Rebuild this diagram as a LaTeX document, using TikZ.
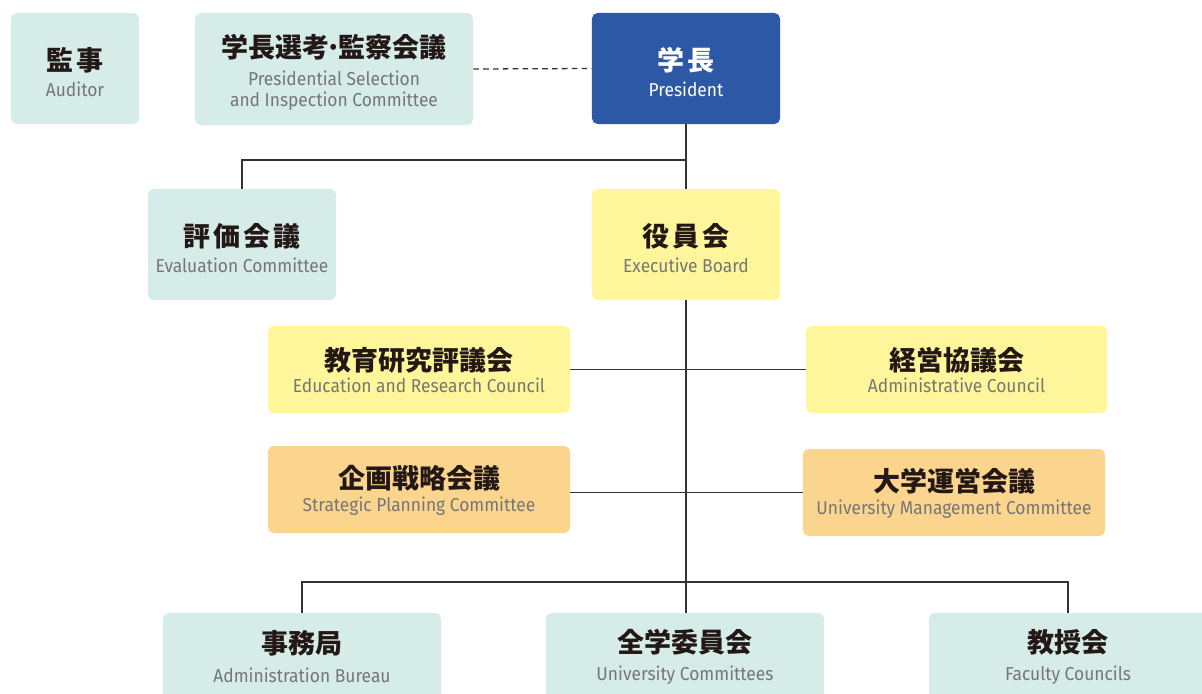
\documentclass[tikz,border=0pt]{standalone}
\usepackage{fontspec}
\newfontfamily\jpfont{Noto Sans CJK JP}
\newfontfamily\jpwidefont[LetterSpace=12]{Noto Sans CJK JP}
\newfontfamily\enfont[FakeStretch=0.93]{Fira Sans}
\usetikzlibrary{positioning}
\usetikzlibrary{calc}

\definecolor{tealfill}{HTML}{D5ECE9}
\definecolor{yellowfill}{HTML}{FFF69B}
\definecolor{orangefill}{HTML}{FBD48D}
\definecolor{bluefill}{HTML}{2D58A5}
\definecolor{jpink}{HTML}{231815}
\definecolor{engray}{HTML}{767676}
\definecolor{linegray}{HTML}{333333}

\newcommand{\jtext}[2][21.5pt]{{\jpfont\bfseries\fontsize{19.2pt}{15pt}\selectfont\rule{0pt}{#1}#2}}
\newcommand{\jwide}[1]{{\jpwidefont\bfseries\fontsize{19.2pt}{15pt}\selectfont\rule{0pt}{21.5pt}#1}}
\newcommand{\etext}[1]{{\enfont\fontsize{13.3pt}{15pt}\selectfont #1}}

\begin{document}
\begin{tikzpicture}[x=0.025cm,y=-0.025cm,
    orgbox/.style={rounded corners=4pt, inner sep=0pt, align=center,
        text=jpink, minimum height=2.775cm, font=\fontsize{13.3pt}{15pt}\selectfont},
    tealbox/.style={orgbox, fill=tealfill},
    yellowbox/.style={orgbox, fill=yellowfill},
    orangebox/.style={orgbox, fill=orangefill, minimum height=2.175cm},
    link/.style={draw=linegray, line width=0.9pt}]

    % page frame
    \useasboundingbox (0,0) rectangle (1202,693);
    \clip (0,0) rectangle (1202,693);

    % top row
    \node[tealbox, minimum width=3.2cm] (aud) at (75,68.5)
        {\jwide{監事}\\[3pt]\color{engray}\etext{Auditor}};
    \node[tealbox, minimum width=6.95cm, minimum height=2.8cm] (psic) at (334,69)
        {\jtext{学長選考\kern-3pt·\kern-3pt監察会議}\\[5pt]\color{engray}\etext{Presidential Selection}\\\color{engray}\etext{and Inspection Committee}};
    \node[orgbox, fill=bluefill, text=white, minimum width=4.7cm] (pres) at (686,68.5)
        {\jwide{学長}\\[3pt]\etext{President}};

    % second row
    \node[tealbox, minimum width=4.7cm] (eval) at (242,244.5)
        {\jwide{評価会議}\\[3pt]\color{engray}\etext{Evaluation Committee}};
    \node[yellowbox, minimum width=4.7cm] (exec) at (686,244.5)
        {\jwide{役員会}\\[3pt]\color{engray}\etext{Executive Board}};

    % councils
    \node[yellowbox, minimum width=7.55cm, minimum height=2.175cm] (edu) at (419,369.5)
        {\jtext[17.5pt]{教育研究評議会}\\[1pt]\color{engray}\etext{Education and Research Council}};
    \node[yellowbox, minimum width=7.525cm, minimum height=2.175cm] (adm) at (956.5,369.5)
        {\jtext[17.5pt]{経営協議会}\\[1pt]\color{engray}\etext{Administrative Council}};
    \node[orangebox, minimum width=7.55cm] (strat) at (419,489.5)
        {\jtext[17.5pt]{企画戦略会議}\\[1pt]\color{engray}\etext{Strategic Planning Committee}};
    \node[orangebox, minimum width=7.55cm] (umc) at (954,492.5)
        {\jtext[17.5pt]{大学運営会議}\\[1pt]\color{engray}\etext{University Management Committee}};

    % bottom row
    \node[tealbox, minimum width=6.95cm, minimum height=2.175cm] (bur) at (302,656.5)
        {\jtext[0pt]{事務局}\\[5pt]\color{engray}\etext{Administration Bureau}};
    \node[tealbox, minimum width=6.95cm, minimum height=2.175cm] (ucom) at (685,656.5)
        {\jtext[0pt]{全学委員会}\\[5pt]\color{engray}\etext{University Committees}};
    \node[tealbox, minimum width=6.95cm, minimum height=2.175cm] (fac) at (1068,656.5)
        {\jtext[0pt]{教授会}\\[5pt]\color{engray}\etext{Faculty Councils}};

    % junctions
    \coordinate (upper) at (686,160);
    \coordinate (lower) at (686,582);

    \draw[link, dash pattern=on 4pt off 3pt] (psic.east) -- (pres.west);
    \draw[link] (pres.south) -- (exec.north);
    \draw[link] (eval.north) |- (upper);
    \draw[link] (exec.south) -- (lower);
    \draw[link] (edu.east) -- (adm.west);
    \draw[link] (strat.east |- umc.west) -- (umc.west);
    \draw[link] (bur.north) |- (lower) -| (fac.north);
    \draw[link] (lower) -- (lower |- ucom.north);

\end{tikzpicture}
\end{document}
